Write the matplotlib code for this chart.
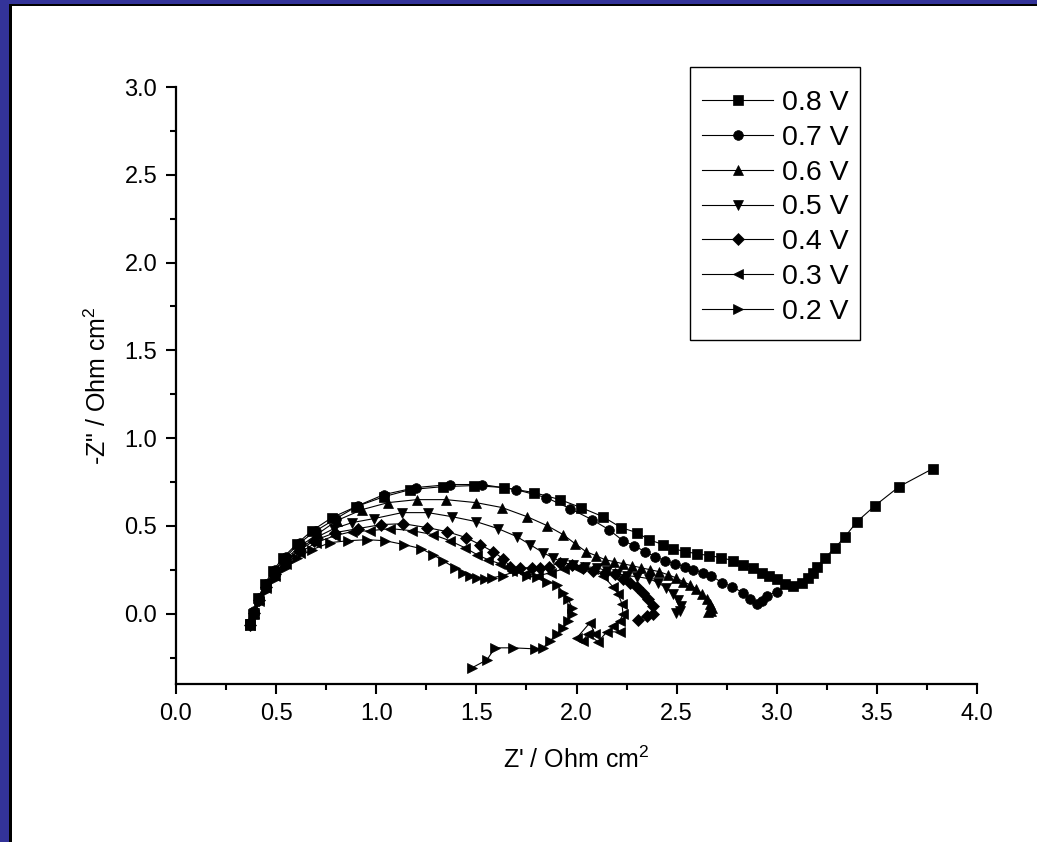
import matplotlib
matplotlib.use('Agg')
import matplotlib.pyplot as plt
from matplotlib.patches import Rectangle
from matplotlib.ticker import MultipleLocator

plt.rcParams['font.family'] = ['Liberation Sans', 'DejaVu Sans']
plt.rcParams['mathtext.fontset'] = 'custom'
plt.rcParams['mathtext.rm'] = 'Liberation Sans'
plt.rcParams['mathtext.it'] = 'Liberation Sans'
plt.rcParams['mathtext.bf'] = 'Liberation Sans'

labels = ['0.8 V', '0.7 V', '0.6 V', '0.5 V', '0.4 V', '0.3 V', '0.2 V']

x_08 = [0.370, 0.385, 0.410, 0.444, 0.484, 0.534, 0.604, 0.679, 0.779, 0.899, 1.039, 1.169, 1.333, 1.488,
        1.638, 1.788, 1.918, 2.022, 2.132, 2.222, 2.302, 2.362, 2.432, 2.482, 2.542, 2.602, 2.662, 2.722,
        2.782, 2.831, 2.881, 2.926, 2.961, 3.001, 3.041, 3.081, 3.126, 3.156, 3.181, 3.201, 3.241, 3.291,
        3.341, 3.401, 3.491, 3.611, 3.780]
y_08 = [-0.057, 0.000, 0.091, 0.171, 0.245, 0.319, 0.399, 0.473, 0.548, 0.610, 0.667, 0.707, 0.724, 0.730,
        0.719, 0.690, 0.650, 0.605, 0.553, 0.491, 0.462, 0.422, 0.394, 0.371, 0.354, 0.342, 0.331, 0.320,
        0.302, 0.280, 0.262, 0.234, 0.217, 0.200, 0.171, 0.160, 0.177, 0.205, 0.234, 0.268, 0.319, 0.376,
        0.439, 0.525, 0.616, 0.724, 0.827]

x_07 = [0.370, 0.390, 0.414, 0.449, 0.494, 0.549, 0.619, 0.699, 0.799, 0.909, 1.039, 1.199, 1.368, 1.528,
        1.698, 1.848, 1.968, 2.077, 2.162, 2.232, 2.287, 2.342, 2.392, 2.442, 2.492, 2.542, 2.582, 2.632,
        2.672, 2.727, 2.777, 2.831, 2.866, 2.901, 2.926, 2.951, 3.001]
y_07 = [-0.050, 0.017, 0.091, 0.171, 0.251, 0.325, 0.405, 0.473, 0.542, 0.616, 0.679, 0.719, 0.736, 0.736,
        0.707, 0.662, 0.599, 0.536, 0.479, 0.416, 0.388, 0.354, 0.325, 0.302, 0.285, 0.268, 0.251, 0.234,
        0.217, 0.177, 0.154, 0.120, 0.086, 0.057, 0.074, 0.103, 0.125]

x_06 = [0.370, 0.390, 0.414, 0.449, 0.494, 0.554, 0.624, 0.709, 0.804, 0.929, 1.059, 1.203, 1.348, 1.498,
        1.628, 1.753, 1.853, 1.933, 1.993, 2.047, 2.097, 2.142, 2.187, 2.232, 2.277, 2.322, 2.367, 2.412,
        2.457, 2.497, 2.532, 2.567, 2.597, 2.627, 2.652, 2.667, 2.677, 2.672, 2.657]
y_06 = [-0.063, 0.006, 0.086, 0.165, 0.245, 0.319, 0.388, 0.456, 0.531, 0.593, 0.633, 0.650, 0.650, 0.633,
        0.605, 0.553, 0.502, 0.451, 0.399, 0.354, 0.331, 0.308, 0.297, 0.285, 0.274, 0.262, 0.251, 0.240,
        0.222, 0.205, 0.183, 0.165, 0.143, 0.114, 0.086, 0.057, 0.034, 0.017, 0.011]

x_05 = [0.370, 0.390, 0.414, 0.449, 0.494, 0.554, 0.624, 0.699, 0.789, 0.879, 0.989, 1.129, 1.258, 1.378,
        1.498, 1.608, 1.703, 1.768, 1.833, 1.883, 1.933, 1.983, 2.042, 2.102, 2.152, 2.202, 2.252, 2.302,
        2.362, 2.407, 2.447, 2.482, 2.507, 2.522, 2.517, 2.497]
y_05 = [-0.057, 0.006, 0.086, 0.160, 0.234, 0.308, 0.376, 0.434, 0.485, 0.519, 0.542, 0.576, 0.576, 0.553,
        0.525, 0.485, 0.439, 0.394, 0.348, 0.319, 0.291, 0.280, 0.268, 0.262, 0.245, 0.228, 0.217, 0.211,
        0.200, 0.177, 0.148, 0.114, 0.080, 0.046, 0.017, 0.006]

x_04 = [0.370, 0.390, 0.414, 0.449, 0.494, 0.549, 0.614, 0.689, 0.794, 0.909, 1.024, 1.134, 1.253, 1.353,
        1.448, 1.518, 1.583, 1.633, 1.668, 1.718, 1.778, 1.818, 1.863, 1.918, 1.978, 2.032, 2.082, 2.142,
        2.192, 2.232, 2.267, 2.302, 2.332, 2.357, 2.382, 2.382, 2.352, 2.307]
y_04 = [-0.063, 0.006, 0.080, 0.154, 0.228, 0.297, 0.359, 0.416, 0.462, 0.485, 0.508, 0.513, 0.491, 0.468,
        0.434, 0.394, 0.354, 0.314, 0.268, 0.262, 0.262, 0.262, 0.268, 0.291, 0.280, 0.262, 0.245, 0.234,
        0.228, 0.200, 0.177, 0.154, 0.120, 0.086, 0.046, 0.000, -0.011, -0.034]

x_03 = [0.370, 0.390, 0.414, 0.449, 0.494, 0.549, 0.619, 0.699, 0.794, 0.879, 0.969, 1.069, 1.179, 1.283,
        1.368, 1.443, 1.503, 1.558, 1.618, 1.678, 1.743, 1.808, 1.873, 1.938, 2.002, 2.082, 2.132, 2.182,
        2.207, 2.227, 2.232, 2.217, 2.182, 2.217, 2.152, 2.107, 2.057, 2.032, 2.002, 2.067, 2.092]
y_03 = [-0.063, 0.000, 0.074, 0.148, 0.217, 0.285, 0.348, 0.405, 0.445, 0.468, 0.473, 0.485, 0.473, 0.451,
        0.416, 0.376, 0.337, 0.308, 0.285, 0.245, 0.228, 0.217, 0.234, 0.257, 0.262, 0.257, 0.217, 0.154,
        0.114, 0.057, 0.000, -0.040, -0.068, -0.103, -0.103, -0.160, -0.114, -0.154, -0.137, -0.051, -0.114]

x_02 = [0.370, 0.390, 0.414, 0.449, 0.494, 0.544, 0.604, 0.679, 0.769, 0.859, 0.954, 1.044, 1.139, 1.223,
        1.283, 1.333, 1.393, 1.433, 1.468, 1.503, 1.543, 1.578, 1.633, 1.703, 1.753, 1.803, 1.853, 1.903,
        1.933, 1.958, 1.978, 1.978, 1.958, 1.933, 1.903, 1.868, 1.833, 1.793, 1.683, 1.593, 1.553, 1.478]
y_02 = [-0.063, -0.006, 0.063, 0.131, 0.200, 0.262, 0.319, 0.365, 0.405, 0.416, 0.422, 0.416, 0.394, 0.371,
        0.337, 0.302, 0.262, 0.234, 0.217, 0.205, 0.200, 0.205, 0.217, 0.245, 0.217, 0.211, 0.183, 0.165,
        0.120, 0.086, 0.034, 0.000, -0.040, -0.080, -0.114, -0.154, -0.194, -0.200, -0.194, -0.194, -0.262, -0.308]

series_x = [x_08, x_07, x_06, x_05, x_04, x_03, x_02]
series_y = [y_08, y_07, y_06, y_05, y_04, y_03, y_02]
markers = ['s', 'o', '^', 'v', 'D', '<', '>']
msizes = [6.5, 7, 7.5, 7.5, 6, 7.5, 7.5]

W, H = 1037, 842
fig = plt.figure(figsize=(W / 100, H / 100), dpi=100)
fig.patch.set_facecolor('white')

# slide border (left and top)
navy = '#333399'
fig.patches.append(Rectangle((0, 0), 9 / W, 1, transform=fig.transFigure, facecolor=navy, edgecolor='none', zorder=0))
fig.patches.append(Rectangle((0, 1 - 4 / H), 1, 4 / H, transform=fig.transFigure, facecolor=navy, edgecolor='none', zorder=0))
fig.patches.append(Rectangle((9 / W, 0), 3 / W, 1 - 4 / H, transform=fig.transFigure, facecolor='black', edgecolor='none', zorder=0))
fig.patches.append(Rectangle((9 / W, 1 - 6 / H), 1 - 9 / W, 2 / H, transform=fig.transFigure, facecolor='black', edgecolor='none', zorder=0))

AX_L, AX_R, AX_T, AX_B = 176, 977, 87, 684
ax = fig.add_axes([AX_L / W, 1 - AX_B / H, (AX_R - AX_L) / W, (AX_B - AX_T) / H])
ax.set_facecolor('none')

for xs, ys, m, ms, lab in zip(series_x, series_y, markers, msizes, labels):
    ax.plot(xs, ys, color='black', linewidth=0.8, marker=m, markersize=ms,
            markerfacecolor='black', markeredgecolor='black', markeredgewidth=0.5, label=lab)

ax.set_xlim(0, 4.0)
ax.set_ylim(-0.4, 3.0)
ax.xaxis.set_minor_locator(MultipleLocator(0.25))
ax.yaxis.set_minor_locator(MultipleLocator(0.25))
ax.set_xticks([0, 0.5, 1.0, 1.5, 2.0, 2.5, 3.0, 3.5, 4.0])
ax.set_xticklabels(['0.0', '0.5', '1.0', '1.5', '2.0', '2.5', '3.0', '3.5', '4.0'])
ax.set_yticks([0, 0.5, 1.0, 1.5, 2.0, 2.5, 3.0])
ax.set_yticklabels(['0.0', '0.5', '1.0', '1.5', '2.0', '2.5', '3.0'])

for s in ['top', 'right']:
    ax.spines[s].set_visible(False)
for s in ['left', 'bottom']:
    ax.spines[s].set_linewidth(1.6)
ax.tick_params(which='major', direction='out', length=7.5, width=1.5, labelsize=17, pad=6, colors='black')
ax.tick_params(which='minor', direction='out', length=4.5, width=1.5)

ax.set_xlabel("Z' / Ohm cm$^2$", fontsize=18, labelpad=16)
ax.set_ylabel('-Z" / Ohm cm$^2$', fontsize=18, labelpad=10)

# legend frame drawn as a box, legend entries placed inside
def px2ax(px, py):
    return (px - AX_L) / (AX_R - AX_L), (AX_B - py) / (AX_B - AX_T)

bx0, by1 = px2ax(690, 67)
bx1, by0 = px2ax(860, 340)
ax.add_patch(Rectangle((bx0, by0), bx1 - bx0, by1 - by0, transform=ax.transAxes, facecolor='white',
                       edgecolor='black', linewidth=1.0, clip_on=False, zorder=4))

lx, ly = px2ax(702, 90)
leg = ax.legend(loc='upper left', bbox_to_anchor=(lx, ly),
                fontsize=20.5, frameon=False,
                handlelength=2.5, handletextpad=0.3, labelspacing=0.31, borderpad=0,
                borderaxespad=0, numpoints=1)
leg.set_zorder(5)

fig.savefig('out.png', dpi=100)
